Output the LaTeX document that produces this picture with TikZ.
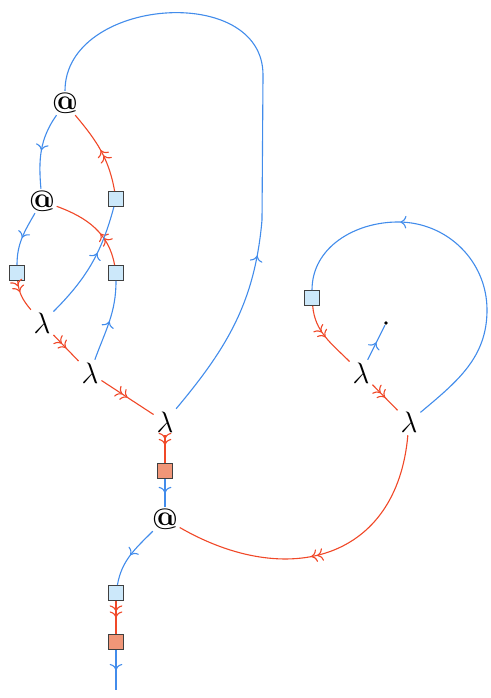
\documentclass[tikz,border=0pt]{standalone}
\usetikzlibrary{arrows.meta,decorations.markings}
\definecolor{wblue}{RGB}{66,140,235}
\definecolor{wred}{RGB}{240,72,40}
\definecolor{boxblue}{RGB}{204,232,250}
\definecolor{boxred}{RGB}{240,150,120}
\begin{document}
\begin{tikzpicture}[x=1.43mm, y=-1.43mm, >={To[scale=0.95]}, line width=0.45pt,
    lam/.style={inner sep=1pt, font=\large},
    app/.style={inner sep=0.5pt, font=\large\bfseries},
    bbox/.style={draw=black!75, fill=boxblue, minimum size=6pt, inner sep=0pt, line width=0.5pt},
    rbox/.style={bbox, fill=boxred},
    dot/.style={circle, fill=black, minimum size=1.5pt, inner sep=0pt},
    blu/.style={color=wblue},
    rd/.style={color=wred},
    one/.style={postaction={decorate, decoration={markings, mark=at position #1 with {\arrow{>}}}}},
    one/.default=0.5,
    two/.style={postaction={decorate, decoration={markings, mark=at position #1 with {\arrow{>>}}}}},
    two/.default=0.5]
      \useasboundingbox (0,0) rectangle (49,69.8);
      % left part
      \node[app] (a1) at (6.5,10.3) {@};
      \node[app] (a2) at (4.2,20.1) {@};
      \node[bbox] (b1) at (11.6,19.9) {};
      \node[bbox] (b2) at (1.7,27.3) {};
      \node[bbox] (b3) at (11.6,27.3) {};
      \node[lam] (l1) at (4.2,32.3) {$\lambda$};
      \node[lam] (l2) at (9.0,37.3) {$\lambda$};
      \node[lam] (l3) at (16.5,42.2) {$\lambda$};
      \node[rbox] (r1) at (16.5,47.1) {};
      \node[app] (a3) at (16.5,51.9) {@};
      \node[bbox] (b4) at (11.6,59.3) {};
      \node[rbox] (r2) at (11.6,64.2) {};
      \coordinate (out) at (11.6,69.0);
      % right part
      \node[bbox] (b5) at (31.2,29.8) {};
      \node[lam] (l4) at (36.1,37.3) {$\lambda$};
      \node[dot] (d) at (38.6,32.3) {};
      \node[lam] (l5) at (40.9,42.2) {$\lambda$};

      \draw[blu, one] (a1) to[out=235,in=95] (a2);
      \draw[rd, two] (b1) to[out=100,in=-50] (a1);
      \draw[blu, one] (a2) to[out=240,in=90] (b2);
      \draw[rd, two=0.4] (b3) to[out=100,in=-20] (a2);
      \draw[rd, two=0.35] (b2) to[out=-85,in=130] (l1);
      \draw[blu, one=0.6] (l1) to[out=45,in=-105] (b1);
      \draw[blu, one] (l2) to[out=70,in=-90] (b3);
      \draw[rd, two] (l1) -- (l2);
      \draw[rd, two] (l2) -- (l3);
      \draw[rd, two=0.35] (l3) -- (r1);
      \draw[blu, one] (r1) -- (a3);
      \draw[blu, one] (a3) to[out=225,in=80] (b4);
      \draw[rd, two] (b4) -- (r2);
      \draw[blu, one] (r2) -- (out);
      \draw[blu, one=0.28] (l3) to[out=50,in=-95] (26.2,22) -- (26.3,7.5)
        to[out=90,in=90,looseness=1.2] (a1);
      \draw[rd, two=0.55] (l5) to[out=-95,in=-30,looseness=1.3] (a3);

      \draw[rd, two] (b5) to[out=-85,in=135] (l4);
      \draw[blu, one] (l4) -- (d);
      \draw[rd, two] (l4) -- (l5);
      \draw[blu, one=0.68] (l5) to[out=40,in=-90] (48.7,31) to[out=90,in=0] (39.8,22.2)
        to[out=180,in=90] (b5);
\end{tikzpicture}
\end{document}
